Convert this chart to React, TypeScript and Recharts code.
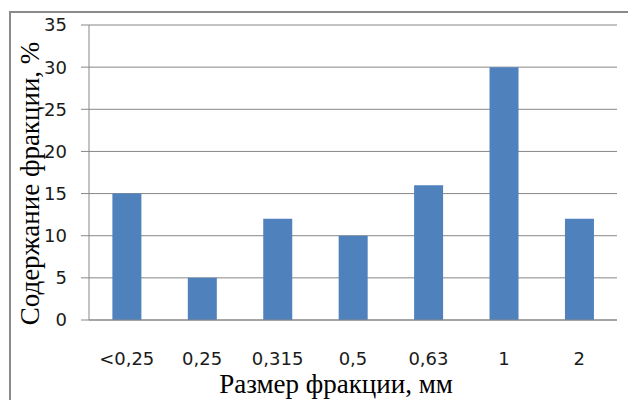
import React from 'react';
import { BarChart, Bar, XAxis, YAxis, CartesianGrid, Label } from 'recharts';

// Размер фракции, мм
const fractions = ['<0,25', '0,25', '0,315', '0,5', '0,63', '1', '2'];
// Содержание фракции, %
const contents = [15, 5, 12, 10, 16, 30, 12];
const yTicks = [0, 5, 10, 15, 20, 25, 30, 35];

const chartData = fractions.map((name, i) => ({ name, value: contents[i] }));
// границы категорий для засечек оси X
const bounds = [...fractions.map((_, i) => i), fractions.length];

const GRID = '#878787';
const BAR = '#4F81BD';
const TICK_FONT = { fontFamily: 'DejaVu Sans', fontSize: 18, fill: '#1a1a1a' };
const TITLE_FONT = "'Liberation Serif', 'Times New Roman', serif";

const XTitle = ({ viewBox }: any) => (
  <text
    x={viewBox.x + viewBox.width / 2 - 17}
    y={viewBox.y + 73}
    textAnchor="middle"
    fontFamily={TITLE_FONT}
    fontSize={27}
    fill="#000"
  >
    Размер фракции, мм
  </text>
);

const YTitle = ({ viewBox }: any) => {
  const x = 39;
  const y = viewBox.y + viewBox.height / 2 + 11;
  return (
    <text
      x={x}
      y={y}
      transform={`rotate(-90, ${x}, ${y})`}
      textAnchor="middle"
      fontFamily={TITLE_FONT}
      fontSize={27}
      fill="#000"
    >
      Содержание фракции, %
    </text>
  );
};

export default function App() {
  return (
    <div
      style={{
        position: 'absolute',
        left: 0,
        top: 0,
        width: 628,
        height: 400,
        overflow: 'hidden',
        background: '#fff',
      }}
    >
      {/* рамка области диаграммы */}
      <div
        style={{
          position: 'absolute',
          left: 9,
          top: 11,
          width: 700,
          height: 500,
          borderLeft: '2px solid #8a8a8a',
          borderTop: '2px solid #8a8a8a',
        }}
      />
      <div style={{ position: 'absolute', left: 0, top: 0 }}>
        <BarChart
          width={628}
          height={400}
          data={chartData}
          margin={{ top: 25, right: 11, bottom: 0, left: 0 }}
          barCategoryGap="31%"
        >
          <CartesianGrid vertical={false} stroke={GRID} strokeWidth={1} />
          <XAxis
            xAxisId="bounds"
            type="number"
            dataKey={() => 0}
            domain={[0, fractions.length]}
            ticks={bounds}
            tickFormatter={() => ''}
            height={0}
            tickSize={7}
            axisLine={false}
            tickLine={{ stroke: GRID }}
            allowDataOverflow
          />
          <XAxis
            dataKey="name"
            height={80}
            tickLine={false}
            tickMargin={26}
            tick={TICK_FONT}
            axisLine={{ stroke: GRID }}
            interval={0}
          >
            <Label content={XTitle} />
          </XAxis>
          <YAxis
            width={89}
            domain={[0, 35]}
            ticks={yTicks}
            tickSize={8}
            tickMargin={14}
            tick={TICK_FONT}
            axisLine={{ stroke: GRID }}
            tickLine={{ stroke: GRID }}
            interval={0}
          >
            <Label content={YTitle} />
          </YAxis>
          <Bar dataKey="value" fill={BAR} isAnimationActive={false} />
        </BarChart>
      </div>
    </div>
  );
}
